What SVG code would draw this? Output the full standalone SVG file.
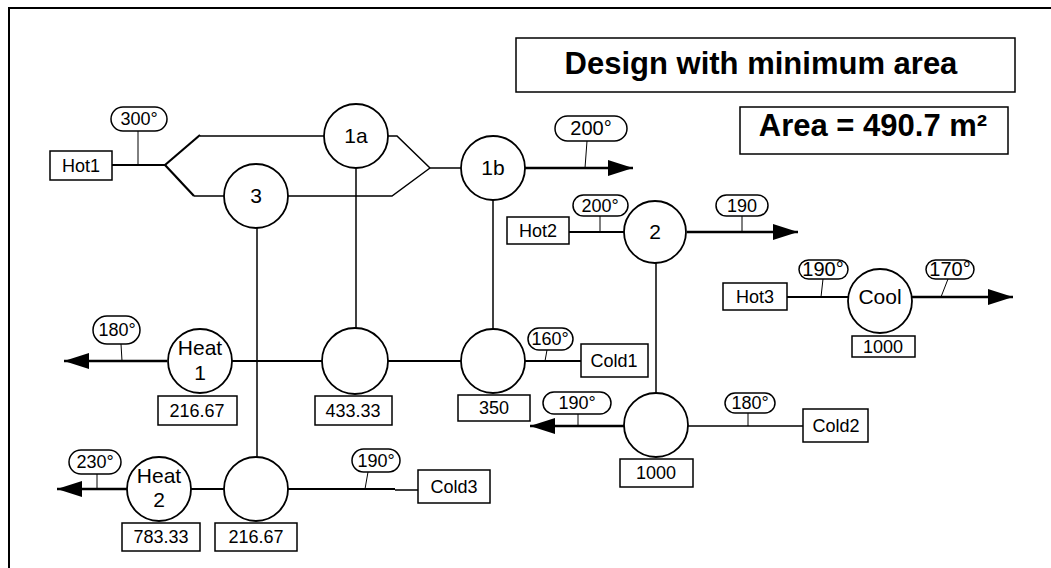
<svg xmlns="http://www.w3.org/2000/svg" width="1051" height="568" viewBox="0 0 1051 568">
<style>
text{font-family:"Liberation Sans",Arial,sans-serif;fill:#000;text-anchor:middle}
.c{fill:#fff;stroke:#000;stroke-width:1.8}
.b{fill:#fff;stroke:#000;stroke-width:1.5}
.p{fill:#fff;stroke:#000;stroke-width:1.5}
.s{stroke:#000;stroke-width:1;fill:none}
.m{stroke:#000;stroke-width:2.2;fill:none}
.t{stroke:#000;stroke-width:1.5;fill:none}
.a{stroke:#000;stroke-width:2.6;fill:none;marker-end:url(#ah)}
.cl{font-size:21px}
.bl{font-size:18px}
.pl{font-size:18px}
.ti{font-size:31px;font-weight:bold}
</style>
<defs>
<marker id="ah" markerUnits="userSpaceOnUse" markerWidth="26" markerHeight="18" refX="25" refY="8" orient="auto"><path d="M0,0 L25,8 L0,16 z" fill="#000"/></marker>
</defs>
<rect width="1051" height="568" fill="#fff"/>
<path d="M9,568 V8 H1051" stroke="#000" stroke-width="2" fill="none"/>

<g id="connectors">
<path class="m" d="M112,165 H165"/>
<path class="m" d="M165,165 L200,135"/>
<path class="m" d="M165,165 L194,196"/>
<path class="t" d="M200,136 H324"/>
<path class="t" d="M194,196 H224"/>
<path class="t" d="M388,136 H397 L430,168"/>
<path class="t" d="M288,196 H392 L430,168"/>
<path class="t" d="M430,168 H461"/>
<path class="a" d="M525,168 H633"/>
<path class="t" d="M356,168 V328"/>
<path class="t" d="M493,200 V329"/>
<path class="t" d="M257,228 V457"/>
<path class="t" d="M656,263 V393"/>
<path class="m" d="M569,232 H624"/>
<path class="a" d="M687,232 H798"/>
<path class="m" d="M787,297 H848"/>
<path class="a" d="M912,297 H1013"/>
<path class="m" d="M581,361 H525"/>
<path class="m" d="M461,361 H388"/>
<path class="m" d="M322,361 H232"/>
<path class="a" d="M167,361 H64"/>
<path class="t" d="M803,426 H688"/>
<path class="a" d="M624,426 H530"/>
<path class="t" d="M418,490 H395"/>
<path class="m" d="M395,489 H288"/>
<path class="m" d="M224,489 H191"/>
<path class="a" d="M127,489 H57"/>
<path class="s" d="M138,131 V165"/>
<path class="s" d="M587,141 L585,168"/>
<path class="s" d="M600,216 V232"/>
<path class="s" d="M742,216 V232"/>
<path class="s" d="M823,279 L821,297"/>
<path class="s" d="M948,279 L941,297"/>
<path class="s" d="M121,344 L122,361"/>
<path class="s" d="M547,350 L545,361"/>
<path class="s" d="M578,414 V426"/>
<path class="s" d="M748,413 V426"/>
<path class="s" d="M97,474 V489"/>
<path class="s" d="M368,472 L365,489"/>
</g>

<g id="title">
<rect class="b" x="516" y="38" width="499" height="54"/>
<text class="ti" x="761" y="74">Design with minimum area</text>
</g>
<g id="area">
<rect class="b" x="740" y="107" width="268" height="47"/>
<text class="ti" x="873" y="136">Area = 490.7 m²</text>
</g>

<g id="hot1"><rect class="b" x="50" y="151" width="62" height="29"/><text class="bl" x="81" y="172">Hot1</text></g>
<g id="hot2"><rect class="b" x="507" y="217" width="62" height="27"/><text class="bl" x="538" y="237">Hot2</text></g>
<g id="hot3"><rect class="b" x="723" y="283" width="64" height="27"/><text class="bl" x="755" y="303">Hot3</text></g>
<g id="cold1"><rect class="b" x="581" y="344" width="67" height="33"/><text class="bl" x="614" y="367">Cold1</text></g>
<g id="cold2"><rect class="b" x="803" y="409" width="65" height="33"/><text class="bl" x="836" y="432">Cold2</text></g>
<g id="cold3"><rect class="b" x="418" y="470" width="72" height="33"/><text class="bl" x="454" y="493">Cold3</text></g>

<g id="ex1a"><circle class="c" cx="356" cy="136" r="32"/><text class="cl" x="356" y="143">1a</text></g>
<g id="ex1b"><circle class="c" cx="493" cy="168" r="32"/><text class="cl" x="493" y="175">1b</text></g>
<g id="ex3"><circle class="c" cx="256" cy="196" r="32"/><text class="cl" x="256" y="203">3</text></g>
<g id="ex2"><circle class="c" cx="655" cy="232" r="31"/><text class="cl" x="655" y="239">2</text></g>
<g id="cool"><circle class="c" cx="880" cy="301" r="32"/><text class="cl" x="880" y="304">Cool</text>
<rect class="b" x="852" y="336" width="63" height="21"/><text class="bl" x="883" y="353">1000</text></g>

<g id="heat1"><circle class="c" cx="200" cy="361" r="32"/><text class="cl" x="200" y="355">Heat</text><text class="cl" x="200" y="380">1</text>
<rect class="b" x="158" y="396" width="79" height="29"/><text class="bl" x="197" y="417">216.67</text></g>
<g id="ex1a-c"><circle class="c" cx="355" cy="361" r="33"/>
<rect class="b" x="315" y="396" width="77" height="29"/><text class="bl" x="353" y="417">433.33</text></g>
<g id="ex1b-c"><circle class="c" cx="493" cy="361" r="32"/>
<rect class="b" x="458" y="395" width="72" height="26"/><text class="bl" x="494" y="414">350</text></g>
<g id="ex2-c"><circle class="c" cx="656" cy="425" r="32"/>
<rect class="b" x="620" y="459" width="73" height="28"/><text class="bl" x="656" y="479">1000</text></g>
<g id="heat2"><circle class="c" cx="159" cy="489" r="32"/><text class="cl" x="159" y="483">Heat</text><text class="cl" x="159" y="507">2</text>
<rect class="b" x="122" y="523" width="78" height="28"/><text class="bl" x="161" y="543">783.33</text></g>
<g id="ex3-c"><circle class="c" cx="256" cy="489" r="32"/>
<rect class="b" x="215" y="523" width="82" height="28"/><text class="bl" x="256" y="543">216.67</text></g>

<g id="temps">
<rect class="p" x="111" y="107" width="56" height="24" rx="12"/><text class="pl" x="139" y="125">300°</text>
<rect class="p" x="555" y="116" width="72" height="25" rx="12.5"/><text class="pl" x="591" y="135" style="font-size:20px">200°</text>
<rect class="p" x="573" y="195" width="55" height="21" rx="10.5"/><text class="pl" x="600" y="212">200°</text>
<rect class="p" x="716" y="195" width="52" height="21" rx="10.5"/><text class="pl" x="742" y="212">190</text>
<rect class="p" x="799" y="260" width="49" height="19" rx="9.5"/><text class="pl" x="823" y="276" style="font-size:20px">190°</text>
<rect class="p" x="926" y="260" width="48" height="19" rx="9.5"/><text class="pl" x="950" y="276" style="font-size:20px">170°</text>
<rect class="p" x="93" y="316" width="47" height="28" rx="14"/><text class="pl" x="117" y="336">180°</text>
<rect class="p" x="528" y="328" width="45" height="22" rx="11"/><text class="pl" x="550" y="345">160°</text>
<rect class="p" x="543" y="392" width="68" height="22" rx="11"/><text class="pl" x="577" y="409">190°</text>
<rect class="p" x="725" y="393" width="50" height="20" rx="10"/><text class="pl" x="750" y="409">180°</text>
<rect class="p" x="69" y="450" width="52" height="24" rx="12"/><text class="pl" x="95" y="468">230°</text>
<rect class="p" x="352" y="449" width="48" height="23" rx="11.5"/><text class="pl" x="376" y="467">190°</text>
</g>
</svg>
